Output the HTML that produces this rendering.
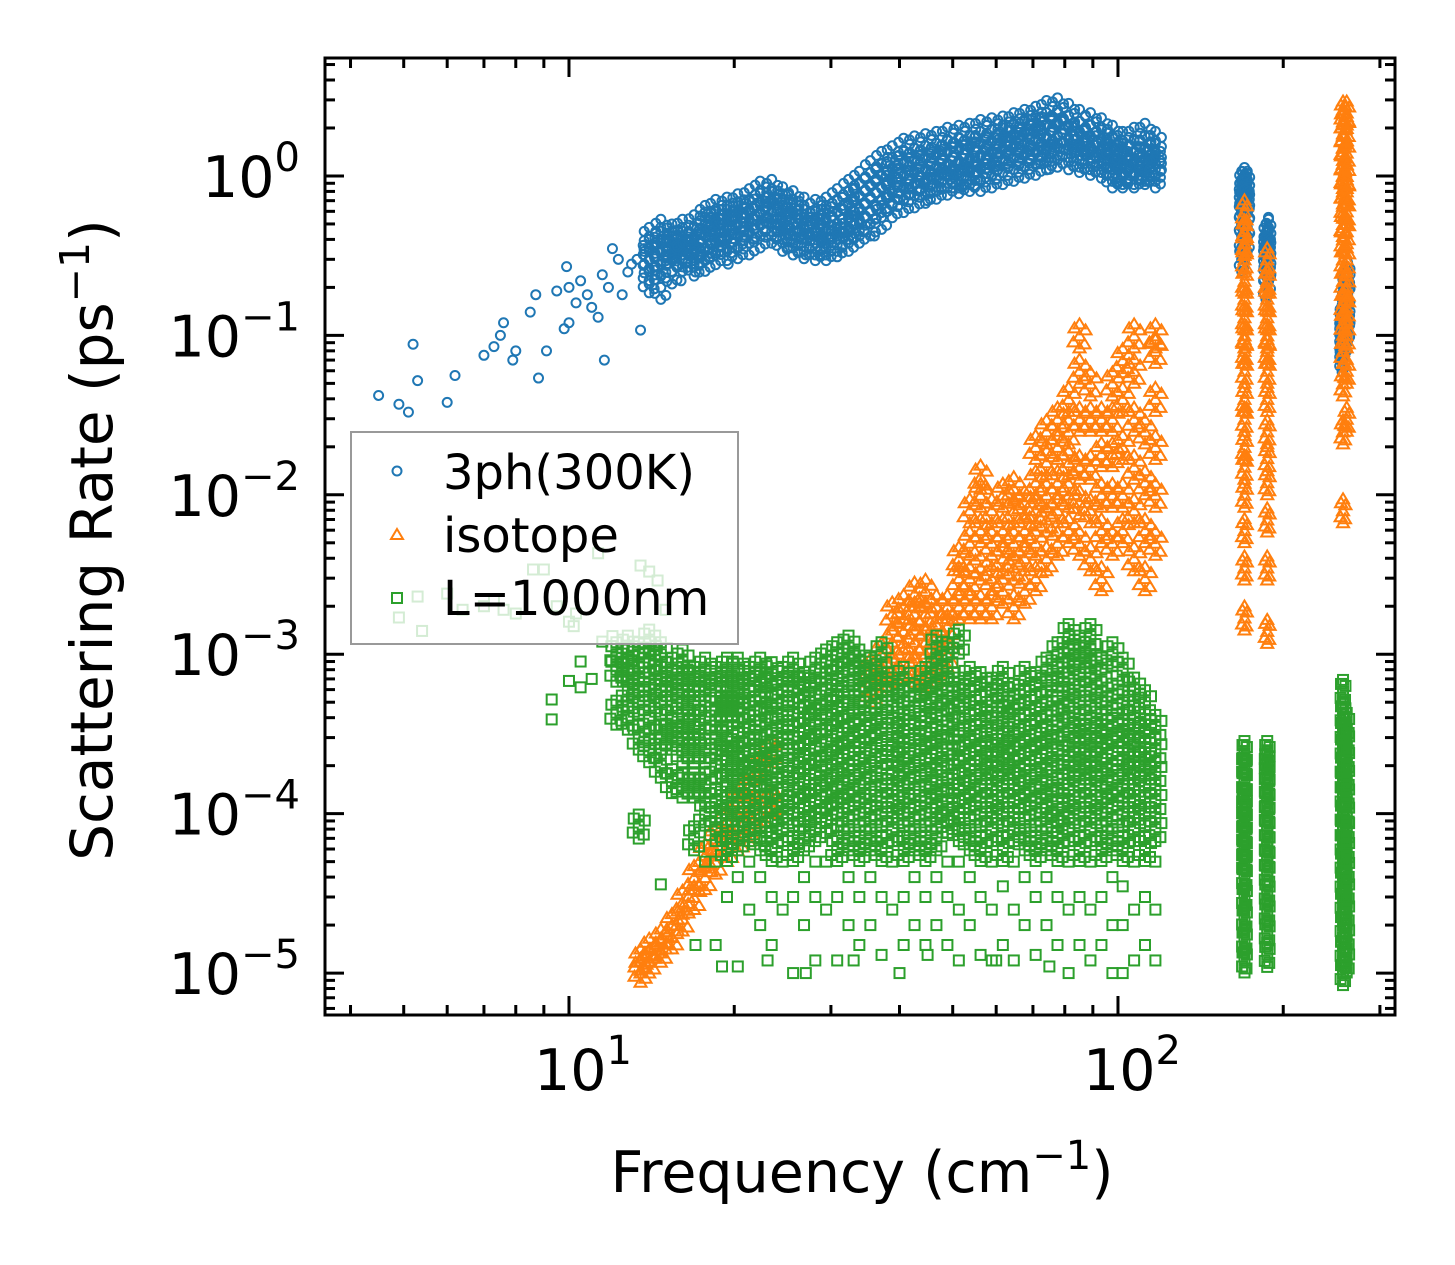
<!DOCTYPE html>
<html><head><meta charset="utf-8"><style>
html,body{margin:0;padding:0;background:#fff;}
svg{display:block;font-family:"DejaVu Sans","Liberation Sans",sans-serif;}
</style></head><body>
<svg id="chart" width="1455" height="1265" viewBox="0 0 1455 1265" xmlns="http://www.w3.org/2000/svg">
<rect width="1455" height="1265" fill="#fff"/>
<g id="marks"></g>
<g id="axes"></g>
<g id="legend">
  <rect x="351" y="432" width="387" height="212" fill="#fff" fill-opacity="0.8" stroke="#999" stroke-width="2"/>
  <circle cx="397" cy="471" r="4.5" fill="none" stroke="#1f77b4" stroke-width="2"/>
  <text x="443" y="489" font-size="48">3ph(300K)</text>
  <path d="M397,529 L403,539 L391,539 Z" fill="none" stroke="#ff7f0e" stroke-width="2"/>
  <text x="443" y="552" font-size="48">isotope</text>
  <rect x="392" y="593" width="10" height="10" fill="none" stroke="#2ca02c" stroke-width="2"/>
  <text x="443" y="615" font-size="48">L=1000nm</text>
</g>
<text x="862" y="1192" font-size="57" text-anchor="middle">Frequency (cm<tspan font-size="40" dy="-23">−1</tspan><tspan dy="23">)</tspan></text>
<text transform="translate(112,540) rotate(-90)" font-size="58" text-anchor="middle">Scattering Rate (ps<tspan font-size="41" dy="-23">−1</tspan><tspan dy="23">)</tspan></text>
</svg>
<script>
// ---- data ----
const blueSparse = [[4.5,0.042],[4.9,0.037],[5.1,0.033],[5.2,0.088],[5.3,0.052],[6.0,0.038],[6.2,0.056],[7.0,0.075],[7.3,0.085],[7.5,0.1],[7.6,0.12],[7.9,0.07],[8.0,0.08],[8.5,0.14],[8.7,0.18],[8.8,0.054],[9.1,0.08],[9.5,0.19],[9.8,0.11],[9.9,0.27],[10,0.12],[10,0.2],[10.3,0.16],[10.5,0.22],[10.8,0.18],[11,0.15],[11.3,0.13],[11.5,0.24],[11.6,0.07],[11.8,0.2],[12,0.35],[12.3,0.3],[12.5,0.18],[12.8,0.25],[13,0.28],[13.3,0.3],[13.5,0.108],[13.7,0.35],[14,0.22],[16,0.22],[17,0.25],[19.5,0.28],[27,0.32],[30,0.34],[36,0.42],[45,0.7],[52,0.85],[60,0.95],[75,1.1],[188,0.55]];
const blueF = [14,14.7,15.4,16.1,16.9,17.7,18.5,19.4,20.3,21.3,22.3,23.4,24.5,25.6,26.8,28.1,29.4,30.8,32.3,33.8,35.4,37.1,38.8,40.7,42.6,44.6,46.7,48.9,51.3,53.7,56.2,58.9,61.7,64.6,67.6,70.8,74.1,77.6,81.3,85.1,89.1,93.3,97.7,102,107,112,117,
 168,170,172,186,188,256,259,262];
const blueV = [
 [.25,.3,.35,.4,.22],[.28,.33,.4,.45,.2],[.3,.35,.42,.38,.25],[.3,.38,.45,.4,.32],[.32,.4,.48,.35,.28],[.35,.42,.5,.55,.3],[.38,.45,.52,.6,.33],[.4,.48,.55,.62,.35],[.42,.5,.58,.65,.36],[.45,.52,.6,.7,.38],[.5,.58,.68,.78,.42],[.5,.6,.7,.8,.45],[.45,.55,.65,.72,.4],[.42,.5,.6,.68,.38],[.4,.48,.55,.62,.36],[.38,.45,.52,.6,.35],[.38,.45,.55,.62,.35],[.4,.5,.6,.7,.37],[.45,.55,.68,.8,.4],[.5,.62,.75,.9,.45],[.6,.72,.88,1.05,.5],[.7,.85,1.0,1.2,.55],[.8,.95,1.1,1.3,.65],[.85,1.0,1.2,1.45,.7],[.9,1.05,1.25,1.5,.75],[.9,1.1,1.3,1.55,.8],[.95,1.15,1.35,1.6,.85],[1.0,1.2,1.4,1.7,.9],[1.0,1.25,1.45,1.75,.92],[1.05,1.3,1.5,1.8,.95],[1.1,1.35,1.6,1.9,.95],[1.2,1.4,1.65,1.95,1.0],[1.25,1.5,1.75,2.0,1.05],[1.3,1.55,1.8,2.1,1.1],[1.35,1.6,1.9,2.2,1.15],[1.4,1.7,2.0,2.3,1.2],[1.45,1.75,2.1,2.5,1.3],[1.5,1.8,2.1,2.6,1.35],[1.45,1.75,2.0,2.4,1.3],[1.35,1.6,1.85,2.2,1.25],[1.3,1.5,1.75,2.1,1.2],[1.25,1.45,1.7,1.95,1.15],[1.1,1.3,1.5,1.75,1.0],[1.05,1.2,1.4,1.6,1.0],[1.0,1.2,1.4,1.7,1.05],[1.05,1.25,1.5,1.8,1.1],[1.0,1.2,1.4,1.6,1.1],
 [.3,.4,.5,.6,.7,.8,.9],[.35,.45,.55,.65,.75,.85,.95],[.4,.5,.6,.7,.8,.9],[.2,.24,.28,.32,.37,.42],[.22,.26,.3,.35,.4,.45],[.07,.08,.09,.1,.11,.12,.13],[.09,.1,.12,.14,.16,.18,.2],[.11,.13,.15,.18,.22,.24]];
const orangeF = [13.5,14,14.7,15.4,16.1,16.9,17.7,18.5,19.4,20.3,21.3,22.3,23.4,35.4,37.1,38.8,40.7,42.6,44.6,46.7,48.9,51.3,53.7,56.2,58.9,61.7,64.6,67.6,70.8,74.1,77.6,81.3,85.1,89.1,93.3,97.7,102,107,112,117,170,187,257,261];
const orangeV = [
 [1.05e-5,1.2e-5],[1.2e-5,1.4e-5],[1.4e-5,1.6e-5],[1.7e-5,2e-5],[2.2e-5,2.8e-5],[3e-5,4e-5],[4e-5,5.5e-5],[5e-5,7e-5],[6e-5,9e-5],[7e-5,1.2e-4],[8e-5,1.5e-4],[1e-4,2e-4],[1.2e-4,2.5e-4],
 [6e-4,8e-4],[7e-4,1e-3],[8e-4,1.2e-3,1.8e-3],[9e-4,1.4e-3,2e-3],[8e-4,1.2e-3,1.8e-3,2.4e-3],[7e-4,1.2e-3,1.8e-3,2.5e-3],[8e-4,1.3e-3,2e-3],[1e-3,1.5e-3,2e-3],[2e-3,3e-3,4e-3],[2e-3,3e-3,5e-3,8e-3],[2e-3,3.5e-3,6e-3,1e-2,1.3e-2],[2e-3,3e-3,5e-3,8e-3],[2.5e-3,4e-3,6e-3,1e-2],[2e-3,3.5e-3,5e-3,8e-3,1.1e-2],[2.5e-3,4e-3,6e-3,9e-3],[3e-3,5e-3,8e-3,1.2e-2,2e-2],[4e-3,7e-3,1e-2,1.6e-2,2.5e-2],[5e-3,8e-3,1.2e-2,2e-2,3e-2],[6e-3,1e-2,1.6e-2,2.5e-2,4e-2],[5e-3,9e-3,1.5e-2,3e-2,6e-2,0.1],[4e-3,8e-3,1.5e-2,3e-2,5e-2],[3e-3,6e-3,1e-2,1.8e-2,3e-2],[5e-3,1e-2,1.8e-2,3e-2,5e-2],[6e-3,1e-2,2e-2,4e-2,7e-2],[4e-3,8e-3,1.5e-2,3e-2,6e-2,0.1],[3e-3,6e-3,1.2e-2,2.5e-2],[5e-3,1e-2,2e-2,4e-2,8e-2,0.1],
 [1.7e-3,3.5e-3,6e-3,1e-2,1.5e-2,2e-2,3e-2,4e-2,6e-2,8e-2,0.1,0.13,0.17,0.22,0.3,0.38,0.45,0.6],
 [1.4e-3,3.5e-3,7e-3,1.2e-2,1.7e-2,2.5e-2,4e-2,6e-2,8e-2,0.1,0.13,0.17,0.22,0.3],
 [8e-3,0.025,0.05,0.08,0.12,0.16,0.22,0.3,0.4,0.5,0.65,0.8,1.0,1.2,1.5,1.8,2.2,2.5],
 [0.03,0.06,0.1,0.15,0.2,0.3,0.45,0.6,0.8,1.0,1.4,2.0,2.5]];
const greenSparse = [[4.9,1.7e-3],[5.3,2.3e-3],[5.4,1.4e-3],[6.0,2.4e-3],[6.4,1.9e-3],[7,2e-3],[7.3,2.2e-3],[7.6,1.9e-3],[8,1.8e-3],[8.6,3.4e-3],[9,3.4e-3],[9.5,2e-3],[10,1.6e-3],[10.2,1.5e-3],[10.3,1.8e-3],[11.3,4.3e-3],[11.5,1.2e-3],[12,1.3e-3],[13.5,3.6e-3],[14,3.3e-3],[14.5,2.9e-3],[15,1.9e-3],[9.3,5.2e-4],[9.3,3.9e-4],[10,6.8e-4],[10.5,6.2e-4],[11,7e-4],[10.5,9e-4],[12.5,8e-4],[13,9e-4],[17,1.5e-5],[19,1.1e-5],[23,1.2e-5],[27,1e-5],[33,1.2e-5],[40,1e-5],[45,1.3e-5],[60,1.2e-5],[75,1.1e-5]];
const greenF = [12.2,12.8,13.4,14,14.7,15.4,16.1,16.9,17.7,18.5,19.4,20.3,21.3,22.3,23.4,24.5,25.6,26.8,28.1,29.4,30.8,32.3,33.8,35.4,37.1,38.8,40.7,42.6,44.6,46.7,48.9,51.3,53.7,56.2,58.9,61.7,64.6,67.6,70.8,74.1,77.6,81.3,85.1,89.1,93.3,97.7,102,107,112,117,170,187,257,261];
const greenV = [
 [4.3e-4,8e-4,1e-3],[4e-4,6e-4,8e-4,1.1e-3],[8.3e-5,3e-4,5e-4,7e-4,1e-3],[2.5e-4,4e-4,6e-4,9e-4,1.2e-3],[3.6e-5,2e-4,3e-4,5e-4,7e-4,1e-3],[1.6e-4,3e-4,4e-4,6e-4,8e-4],[1.5e-4,2.5e-4,3.5e-4,5e-4,7e-4,9e-4],[7e-5,1.5e-4,2.5e-4,3.5e-4,5e-4,7e-4],[5e-5,1e-4,1.5e-4,2.5e-4,4e-4,6e-4,8e-4],[1.5e-5,5e-5,8e-5,1.2e-4,2e-4,3e-4,4.5e-4,7e-4],[3e-5,6e-5,1e-4,1.5e-4,2.2e-4,3e-4,4.5e-4,6e-4,8e-4],[1.1e-5,4e-5,7e-5,1e-4,1.5e-4,2.2e-4,3.2e-4,4.5e-4,6e-4,8e-4],[2.5e-5,5e-5,8e-5,1.2e-4,1.8e-4,2.5e-4,3.5e-4,5e-4,7e-4],[2e-5,4e-5,7e-5,1e-4,1.5e-4,2.2e-4,3e-4,4.5e-4,6.5e-4,8e-4],[1.5e-5,3e-5,6e-5,9e-5,1.3e-4,1.9e-4,2.8e-4,4e-4,5.5e-4,7.5e-4],[2.5e-5,5e-5,8e-5,1.2e-4,1.7e-4,2.5e-4,3.5e-4,5e-4,7e-4],[1e-5,3e-5,6e-5,1e-4,1.4e-4,2e-4,3e-4,4.2e-4,6e-4,8e-4],[2e-5,4e-5,7e-5,1.1e-4,1.6e-4,2.3e-4,3.3e-4,4.7e-4,6.5e-4],[1.2e-5,3e-5,5e-5,8e-5,1.2e-4,1.8e-4,2.6e-4,3.8e-4,5.5e-4,8e-4],[2.5e-5,5e-5,9e-5,1.3e-4,1.9e-4,2.8e-4,4e-4,6e-4,9e-4],[1.2e-5,3e-5,6e-5,1e-4,1.5e-4,2.2e-4,3.2e-4,4.6e-4,7e-4,1e-3],[2e-5,4e-5,7e-5,1.1e-4,1.6e-4,2.4e-4,3.5e-4,5e-4,8e-4,1.1e-3],[1.5e-5,3e-5,6e-5,1e-4,1.5e-4,2.2e-4,3.3e-4,5e-4,7e-4,9e-4],[2e-5,4e-5,7e-5,1.1e-4,1.7e-4,2.5e-4,3.6e-4,5.5e-4,8e-4],[1.3e-5,3e-5,6e-5,1e-4,1.5e-4,2.3e-4,3.4e-4,5e-4,7e-4,1e-3],[2.5e-5,5e-5,8e-5,1.2e-4,1.8e-4,2.7e-4,4e-4,6e-4],[1.5e-5,3e-5,6e-5,1e-4,1.5e-4,2.2e-4,3.3e-4,5e-4,7e-4],[2e-5,4e-5,7e-5,1.1e-4,1.7e-4,2.5e-4,3.7e-4,5.5e-4],[1.5e-5,3e-5,6e-5,1e-4,1.5e-4,2.2e-4,3.2e-4,4.8e-4,7e-4],[2e-5,4e-5,7e-5,1.1e-4,1.6e-4,2.4e-4,3.5e-4,5.5e-4,8e-4,1.1e-3],[1.5e-5,3e-5,5e-5,9e-5,1.4e-4,2e-4,3e-4,4.5e-4,7e-4,1e-3],[1.2e-5,2.5e-5,5e-5,8e-5,1.2e-4,1.8e-4,2.6e-4,4e-4,6e-4,1.2e-3],[2e-5,4e-5,7e-5,1.1e-4,1.6e-4,2.4e-4,3.5e-4,5e-4,7e-4],[1.3e-5,3e-5,6e-5,1e-4,1.5e-4,2.2e-4,3.2e-4,4.6e-4,6.5e-4],[1.2e-5,2.5e-5,5e-5,8e-5,1.2e-4,1.8e-4,2.7e-4,4e-4,6e-4],[1.5e-5,3.5e-5,6e-5,1e-4,1.5e-4,2.2e-4,3.2e-4,4.7e-4,7e-4],[1.2e-5,2.5e-5,5e-5,8e-5,1.2e-4,1.8e-4,2.6e-4,3.8e-4,5.5e-4],[2e-5,4e-5,7e-5,1.1e-4,1.6e-4,2.4e-4,3.5e-4,5e-4,7e-4],[1.3e-5,3e-5,6e-5,1e-4,1.5e-4,2.2e-4,3.2e-4,4.6e-4,6.5e-4],[2e-5,4e-5,7e-5,1.1e-4,1.6e-4,2.4e-4,3.5e-4,5e-4,8e-4],[1.5e-5,3e-5,6e-5,9e-5,1.4e-4,2e-4,3e-4,4.5e-4,7e-4,1e-3],[1e-5,2.5e-5,5e-5,8e-5,1.2e-4,1.8e-4,2.7e-4,4e-4,6e-4,9e-4,1.3e-3],[1.5e-5,3e-5,6e-5,1e-4,1.5e-4,2.2e-4,3.3e-4,5e-4,7.5e-4,1.1e-3],[1.2e-5,2.5e-5,5e-5,8e-5,1.2e-4,1.8e-4,2.7e-4,4e-4,6e-4,9e-4,1.3e-3],[1.5e-5,3e-5,6e-5,1e-4,1.5e-4,2.2e-4,3.3e-4,5e-4,8e-4],[1e-5,2e-5,4e-5,7e-5,1.1e-4,1.6e-4,2.4e-4,3.5e-4,5.5e-4,1e-3],[1e-5,2e-5,3.5e-5,6e-5,1e-4,1.5e-4,2.2e-4,3.3e-4,5e-4,8e-4],[1.2e-5,2.5e-5,5e-5,8e-5,1.2e-4,1.8e-4,2.7e-4,4e-4,6e-4],[1.5e-5,3e-5,6e-5,1e-4,1.5e-4,2.2e-4,3.3e-4,5e-4],[1.2e-5,2.5e-5,5e-5,8e-5,1.2e-4,1.8e-4,2.5e-4,3.5e-4],
 [1.2e-5,1.6e-5,2.2e-5,3e-5,4e-5,5e-5,6e-5,7.5e-5,9e-5,1.1e-4,1.3e-4,1.6e-4,2e-4,2.4e-4],
 [1.3e-5,1.8e-5,2.4e-5,3.2e-5,4.2e-5,5.2e-5,6.5e-5,8e-5,1e-4,1.2e-4,1.5e-4,1.8e-4,2.1e-4,2.4e-4],
 [1e-5,1.4e-5,2e-5,2.8e-5,3.8e-5,5e-5,6.5e-5,8e-5,1e-4,1.3e-4,1.6e-4,2e-4,2.6e-4,3.3e-4,4.2e-4,5.8e-4],
 [1.2e-5,1.7e-5,2.4e-5,3.3e-5,4.5e-5,6e-5,8e-5,1e-4,1.3e-4,1.7e-4,2.2e-4,2.8e-4,3.6e-4]];
const xTickLabels = ["1","2"];
const yTickLabels = ["0","−1","−2","−3","−4","−5"];
// ---- axes ----
const L=325,R=1395,T=58,B=1015;
const xLo=Math.log10(3.594), xHi=Math.log10(319.6);
const yLo=-5.263, yHi=0.740;
const X=f=>L+(Math.log10(f)-xLo)/(xHi-xLo)*(R-L);
const Y=v=>B-(Math.log10(v)-yLo)/(yHi-yLo)*(B-T);
const NS="http://www.w3.org/2000/svg";
const marks=document.getElementById('marks');
const axes=document.getElementById('axes');
function mk(tag,parent){const e=document.createElementNS(NS,tag);parent.appendChild(e);return e;}
function circle(x,y){const e=mk('circle',marks);e.setAttribute('cx',x);e.setAttribute('cy',y);e.setAttribute('r',4.5);e.setAttribute('fill','none');e.setAttribute('stroke','#1f77b4');e.setAttribute('stroke-width',2);

}
function tri(x,y){const e=mk('path',marks);e.setAttribute('d',`M${x},${y-5} L${x+6},${y+5} L${x-6},${y+5} Z`);e.setAttribute('fill','none');e.setAttribute('stroke','#ff7f0e');e.setAttribute('stroke-width',2);

}
function sq(x,y){const e=mk('rect',marks);e.setAttribute('x',x-5);e.setAttribute('y',y-5);e.setAttribute('width',10);e.setAttribute('height',10);e.setAttribute('fill','none');e.setAttribute('stroke','#2ca02c');e.setAttribute('stroke-width',2);

}
// each dense-band datum is drawn as a small cluster glyph of overlapping markers
const cluster=[[0,0],[-6,6],[6,-6],[-5,-8],[5,8],[0,12],[0,-12]];
function series(F,V,fn,minCluster){F.forEach((f,i)=>V[i].forEach(v=>{const x=X(f),y=Y(v);if(v<minCluster&&f<150){fn(x,y);return;}cluster.forEach(o=>fn(x+o[0]*(f>150?0.4:1),y+o[1]));}));}
blueSparse.forEach(p=>circle(X(p[0]),Y(p[1])));
series(blueF,blueV,circle,0);
series(orangeF,orangeV,tri,0);
greenSparse.forEach(p=>sq(X(p[0]),Y(p[1])));
series(greenF,greenV,sq,6e-5);
// frame
const fr=mk('rect',axes);fr.setAttribute('x',L);fr.setAttribute('y',T);fr.setAttribute('width',R-L);fr.setAttribute('height',B-T);fr.setAttribute('fill','none');fr.setAttribute('stroke','#000');fr.setAttribute('stroke-width',3);


function line(x1,y1,x2,y2){const e=mk('line',axes);e.setAttribute('x1',x1);e.setAttribute('y1',y1);e.setAttribute('x2',x2);e.setAttribute('y2',y2);e.setAttribute('stroke','#000');e.setAttribute('stroke-width',3);

}
for(let d=0;d<=2;d++)for(let m=1;m<=9;m++){const f=m*Math.pow(10,d);if(f<3.6||f>319)continue;const x=X(f);const len=m===1?19:10;line(x,B,x,B-len);line(x,T,x,T+len);}
for(let d=-6;d<=0;d++)for(let m=1;m<=9;m++){const v=m*Math.pow(10,d);const y=Y(v);if(y<T+1||y>B-1)continue;const len=m===1?19:10;line(L,y,L+len,y);line(R,y,R-len,y);}
xTickLabels.forEach(s=>{const x=X(Math.pow(10,+s));const t=mk('text',axes);t.setAttribute('x',x+14);t.setAttribute('y',1090);t.setAttribute('font-size',57);t.setAttribute('text-anchor','middle');t.innerHTML=`10<tspan font-size="40" dy="-26">${s}</tspan>`;

});
yTickLabels.forEach(s=>{const y=Y(Math.pow(10,+s.replace('−','-')));const t=mk('text',axes);t.setAttribute('x',300);t.setAttribute('y',y+21);t.setAttribute('font-size',57);t.setAttribute('text-anchor','end');t.innerHTML=`10<tspan font-size="40" dy="-26">${s}</tspan>`;

});
</script>
</body></html>
